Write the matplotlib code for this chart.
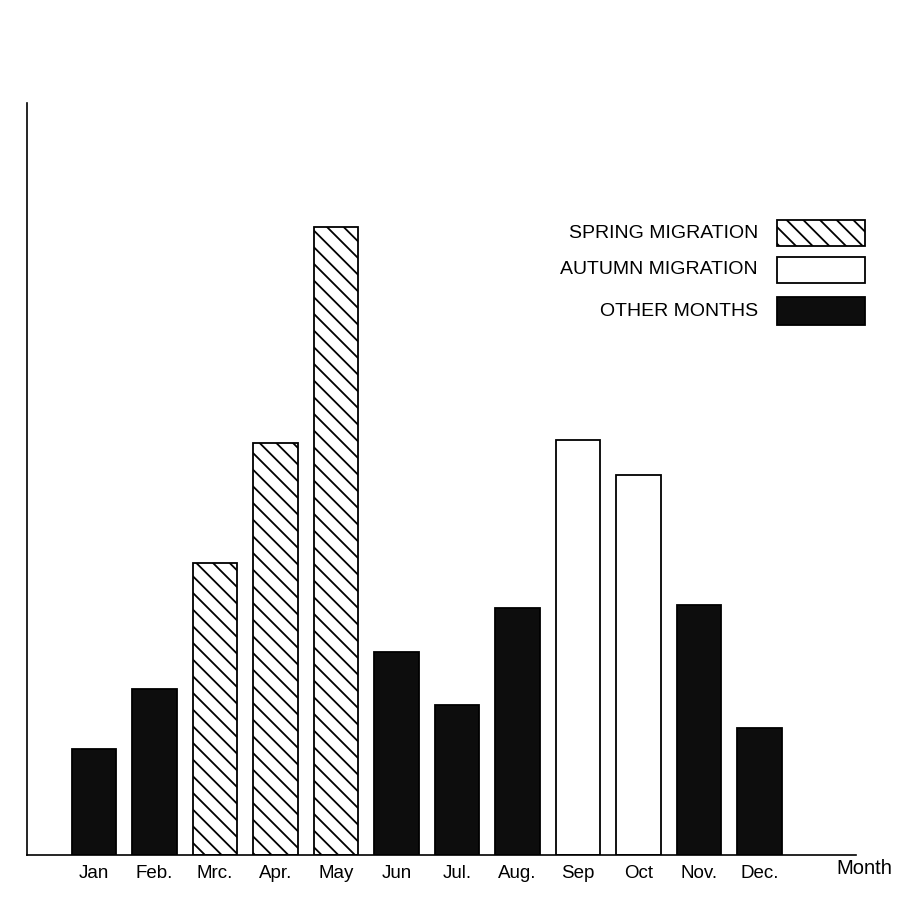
import matplotlib
matplotlib.use("Agg")
import matplotlib.pyplot as plt
from matplotlib.patches import Rectangle

plt.rcParams['font.family'] = ['Liberation Sans', 'DejaVu Sans']
plt.rcParams['hatch.linewidth'] = 1.3

months = ["Jan", "Feb.", "Mrc.", "Apr.", "May", "Jun", "Jul.", "Aug.", "Sep", "Oct", "Nov.", "Dec."]
values = [106, 166, 292, 412, 628, 203, 150, 247, 415, 380, 250, 127]
season = ["other", "other", "spring", "spring", "spring", "other", "other", "other",
          "autumn", "autumn", "other", "other"]
legend_labels = ["SPRING MIGRATION", "AUTUMN MIGRATION", "OTHER MONTHS"]

styles = {
    "spring": dict(facecolor="white", hatch="\\\\"),
    "autumn": dict(facecolor="white", hatch=None),
    "other": dict(facecolor="#0d0d0d", hatch=None),
}

W, H = 919, 901
fig = plt.figure(figsize=(W / 100, H / 100), dpi=100)
ax = fig.add_axes([27 / W, 1 - 855 / H, (860 - 27) / W, (855 - 103) / H])

x = list(range(len(months)))
for xi, v, s in zip(x, values, season):
    st = styles[s]
    ax.bar(xi, v, width=0.73, facecolor=st["facecolor"], edgecolor="black",
           linewidth=1.3, hatch=st["hatch"])

ax.set_xlim(-1.107, 12.66)
ax.set_ylim(0, 752)
ax.set_xticks(x)
ax.set_xticklabels(months, fontsize=13.5)
ax.tick_params(axis="x", length=0, pad=7)
ax.set_yticks([])
for sp in ["top", "right"]:
    ax.spines[sp].set_visible(False)
ax.spines["left"].set_linewidth(1.2)
ax.spines["bottom"].set_linewidth(1.2)
ax.spines["bottom"].set_bounds(-1.107, 12.6)

fig.text(864 / W, 1 - 868 / H, "Month", fontsize=14.5, ha="center", va="center")

# legend drawn manually
rows = [(220, 246), (257, 283), (297, 325)]
keys = ["spring", "autumn", "other"]
for (y0, y1), k, lab in zip(rows, keys, legend_labels):
    st = styles[k]
    r = Rectangle((777 / W, 1 - y1 / H), (865 - 777) / W, (y1 - y0) / H,
                  transform=fig.transFigure, facecolor=st["facecolor"],
                  edgecolor="black", linewidth=1.3, hatch=st["hatch"])
    fig.add_artist(r)
    fig.text(758 / W, 1 - ((y0 + y1) / 2) / H, lab, fontsize=14, ha="right",
             va="center")

fig.savefig("out.png", dpi=100)
